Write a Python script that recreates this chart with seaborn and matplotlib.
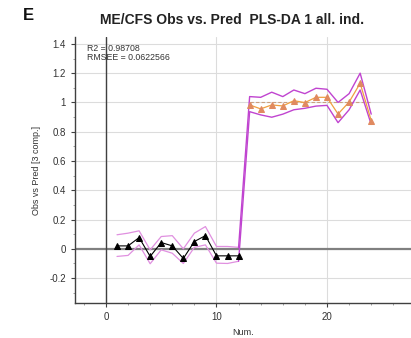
import matplotlib
matplotlib.use("Agg")
import matplotlib.pyplot as plt
import seaborn as sns
import pandas as pd
import numpy as np
from matplotlib.ticker import MultipleLocator

sns.set_style("white")
plt.rcParams['font.family'] = ['Liberation Sans', 'DejaVu Sans']

num = list(range(1, 25))
pred_healthy = [0.02, 0.02, 0.077, -0.052, 0.043, 0.02, -0.066, 0.05, 0.09, -0.048, -0.048, -0.048]
pred_mecfs = [0.983, 0.956, 0.983, 0.976, 1.012, 0.999, 1.035, 1.035, 0.921, 1.003, 1.131, 0.876]
upper = [0.096, 0.107, 0.123, -0.007, 0.084, 0.09, 0.0, 0.107, 0.152, 0.016, 0.016, 0.01,
         1.04, 1.035, 1.07, 1.04, 1.085, 1.06, 1.097, 1.09, 1.0, 1.06, 1.2, 0.92]
lower = [-0.052, -0.045, 0.027, -0.102, -0.007, -0.03, -0.1, 0.01, 0.027, -0.098, -0.1, -0.085,
         0.937, 0.915, 0.899, 0.92, 0.95, 0.96, 0.975, 0.98, 0.862, 0.95, 1.085, 0.85]
observed = [0]*12 + [1]*12

df0 = pd.DataFrame({"Num.": num[:12], "val": pred_healthy})
df1 = pd.DataFrame({"Num.": num[12:], "val": pred_mecfs})
dfb = pd.DataFrame({"Num.": num, "upper": upper, "lower": lower, "obs": observed})

fig = plt.figure(figsize=(4.11, 3.38), dpi=100)
ax = fig.add_axes([0.1825, 0.1036, 0.8175, 0.7869])

ax.set_xlim(-2.8, 27.6)
ax.set_ylim(-0.37, 1.447)
ax.xaxis.set_major_locator(MultipleLocator(10))
ax.xaxis.set_minor_locator(MultipleLocator(2))
ax.yaxis.set_major_locator(MultipleLocator(0.2))
ax.yaxis.set_minor_locator(MultipleLocator(0.1))
ax.grid(True, which='major', color='#dcdcdc', lw=0.8)
ax.set_axisbelow(True)

ax.axhline(0, color='#808080', lw=1.6, zorder=1)
ax.axvline(0, color='#404040', lw=1.0, zorder=1)

# observed line for ME/CFS class
sns.lineplot(data=dfb.iloc[12:], x="Num.", y="obs", ax=ax, color='#c8a080', lw=0.8,
             linestyle=(0, (3, 2)), zorder=2)

# confidence bounds: healthy part light pink, transition + ME/CFS part magenta
for col in ["upper", "lower"]:
    sns.lineplot(data=dfb.iloc[:12], x="Num.", y=col, ax=ax, color='#e090e0', lw=0.9, zorder=3)
    sns.lineplot(data=dfb.iloc[11:], x="Num.", y=col, ax=ax, color='#c044d0', lw=1.0, zorder=3)

sns.lineplot(data=df0, x="Num.", y="val", ax=ax, color='black', lw=0.8, marker='^',
             markersize=5, markeredgecolor='black', zorder=4)
sns.lineplot(data=df1, x="Num.", y="val", ax=ax, color='#f0a040', lw=0.9, marker='^',
             markersize=5, markerfacecolor='#e08a60', markeredgecolor='#e08a60', zorder=4)

def fmt(v, pos=None):
    if abs(v) < 1e-9:
        return "0"
    if abs(v - round(v)) < 1e-9:
        return str(int(round(v)))
    return f"{v:.1f}"
ax.yaxis.set_major_formatter(plt.FuncFormatter(fmt))

for s in ['top', 'right']:
    ax.spines[s].set_visible(False)
for s in ['left', 'bottom']:
    ax.spines[s].set_color('#404040')
    ax.spines[s].set_linewidth(1.0)
ax.tick_params(axis='both', which='major', labelsize=7, length=3, color='#404040',
               labelcolor='#333333', direction='out', left=True, bottom=True)
ax.tick_params(axis='both', which='minor', length=1.5, color='#909090', left=True, bottom=True)

ax.set_xlabel("Num.", fontsize=6.5, color='#333333', labelpad=4)
ax.set_ylabel("Obs vs Pred [3 comp.]", fontsize=6.5, color='#333333', labelpad=6)

ax.text(0.035, 0.975, "R2 = 0.98708\nRMSEE = 0.0622566", transform=ax.transAxes,
        fontsize=6.3, color='#333333', va='top', ha='left', linespacing=1.1)

fig.text(0.565, 0.94, "ME/CFS Obs vs. Pred  PLS-DA 1 all. ind.", fontsize=10,
         fontweight='bold', ha='center', va='center', color='#222222')
fig.text(0.055, 0.955, "E", fontsize=12, fontweight='bold', ha='left', va='center', color='#111111')

fig.savefig("out.png", dpi=100)
